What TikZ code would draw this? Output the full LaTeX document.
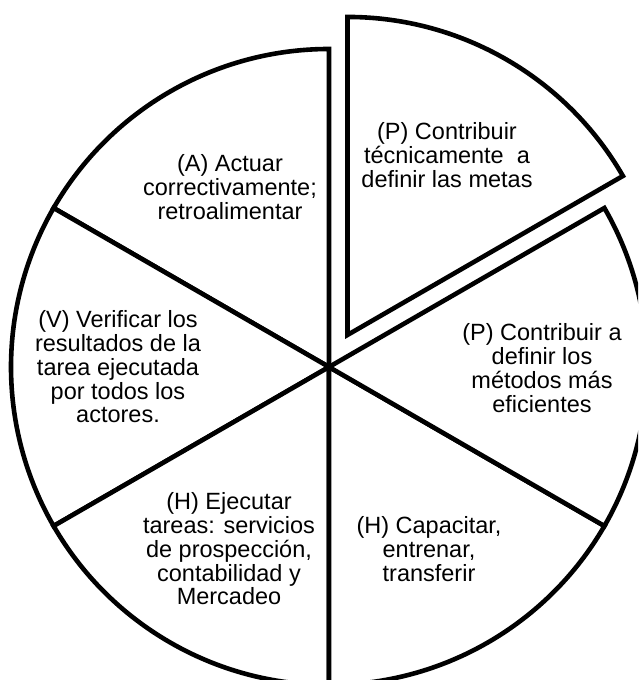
\documentclass[tikz,border=0pt]{standalone}
\usepackage{fontspec}
\setmainfont{Liberation Sans}
\usetikzlibrary{calc}
\begin{document}
\begin{tikzpicture}[x=1pt,y=1pt,
  slice/.style={draw=black,line width=4.6pt,fill=white},
  label/.style={align=center,font=\fontsize{23.5}{23.8}\selectfont,inner sep=0pt}]
\useasboundingbox (0,0) rectangle (638,680);
\clip (0,0) rectangle (638,680);
\coordinate (O) at (329,313);
\def\R{318}
% five slices around the common centre
\draw[slice] (O) -- ++(90:\R) arc (90:150:\R) -- cycle;
\draw[slice] (O) -- ++(150:\R) arc (150:210:\R) -- cycle;
\draw[slice] (O) -- ++(210:\R) arc (210:270:\R) -- cycle;
\draw[slice] (O) -- ++(270:\R) arc (270:330:\R) -- cycle;
\draw[slice] (O) -- ++(-30:\R) arc (-30:30:\R) -- cycle;
% the pulled-out slice
\coordinate (E) at ($(O)+(60:37)$);
\draw[slice] (E) -- ++(30:\R) arc (30:90:\R) -- cycle;
% slice texts
\node[label] (pmetas) at (447,525) {(P) Contribuir\\técnicamente~ a\\definir las metas};
\node[label] (pmetodos) at (542,312) {(P) Contribuir a\\definir los\\métodos más\\eficientes};
\node[label] (hcap) at (429,131) {(H) Capacitar,\\entrenar,\\transferir};
\node[label] (hejec) at (229,131) {(H) Ejecutar\\tareas: servicios\\de prospección,\\contabilidad y\\Mercadeo};
\node[label] (verif) at (118,313) {(V) Verificar los\\resultados de la\\tarea ejecutada\\por todos los\\actores.};
\node[label] (actuar) at (230,493) {(A) Actuar\\correctivamente;\\retroalimentar};
\end{tikzpicture}
\end{document}
